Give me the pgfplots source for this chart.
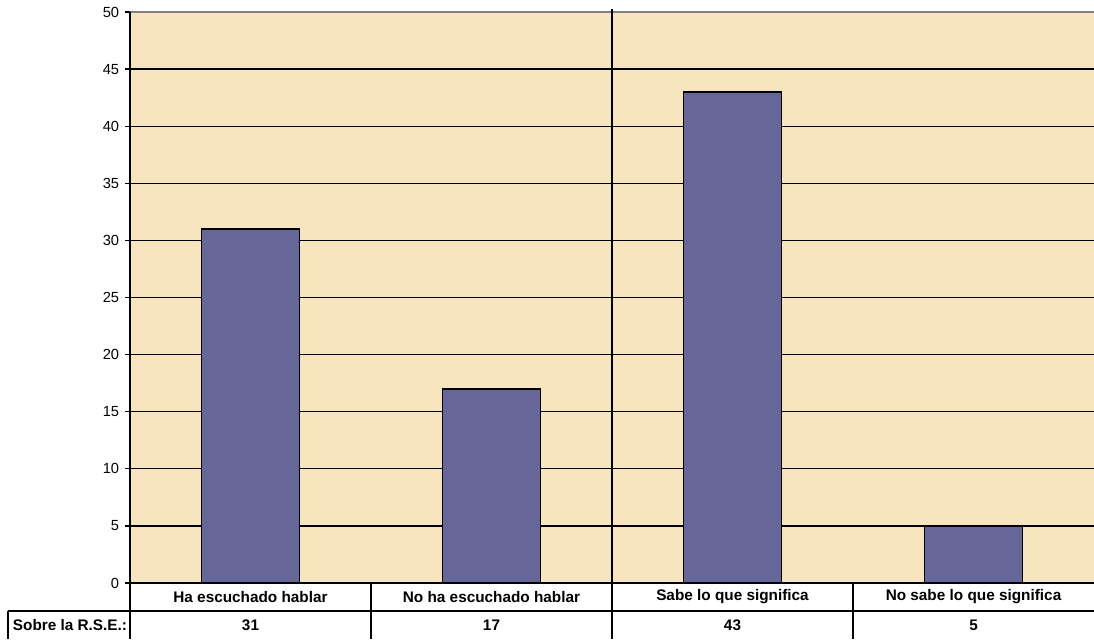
\documentclass[border=0pt]{standalone}
\usepackage{fontspec}
\setmainfont{Liberation Sans}
\usepackage{pgfplots}
\pgfplotsset{compat=1.18}
\definecolor{bg}{RGB}{246,229,190}
\definecolor{barc}{RGB}{102,102,153}
\begin{document}
\begin{tikzpicture}[x=0.75pt,y=0.75pt]
\useasboundingbox (0,0) rectangle (1094,639);
\begin{axis}[
  at={(97.5pt,42pt)}, anchor=south west,
  scale only axis, width=723pt, height=428.25pt,
  xmin=0, xmax=4, ymin=0, ymax=50,
  ytick={0,5,...,50}, xtick=\empty,
  ytick pos=left,
  axis line style={draw=none},
  ymajorgrids, grid style={black, line width=1pt},
  axis background/.style={fill=bg},
  tick style={black, line width=1pt},
  tick align=outside, major tick length=3.6pt,
  y tick label style={font=\fontsize{11}{13}\selectfont, xshift=-1pt},
  /pgf/number format/assume math mode=true,
  clip=false]
\addplot[ybar, bar width=0.407, fill=barc, draw=black, line width=1.2pt]
  coordinates {(0.5,31) (1.5,17) (2.5,43) (3.5,5)};
\end{axis}
% axis frame lines
\draw[gray, line width=1.5pt] (130,627) -- (1094,627);
\draw[black, line width=1.5pt] (130,627) -- (130,0);
\draw[black, line width=1.5pt] (612,630) -- (612,0);
\draw[black, line width=1.5pt] (130,56) -- (1094,56);
% data table
\draw[black, line width=1.5pt] (8,28) -- (1094,28);
\draw[black, line width=1.5pt] (8,28) -- (8,0);
\draw[black, line width=1.5pt] (371,56) -- (371,0);
\draw[black, line width=1.5pt] (853,56) -- (853,0);
\begin{scope}[font=\fontsize{11.5}{13}\selectfont\bfseries]
\node at (250.5,42) {Ha escuchado hablar};
\node at (491.5,42) {No ha escuchado hablar};
\node at (732.5,42) {Sabe lo que significa};
\node at (973.5,42) {No sabe lo que significa};
\node at (250.5,14) {31};
\node at (491.5,14) {17};
\node at (732.5,14) {43};
\node at (973.5,14) {5};
\node at (70,14) {Sobre la R.S.E.:};
\end{scope}
\end{tikzpicture}
\end{document}
